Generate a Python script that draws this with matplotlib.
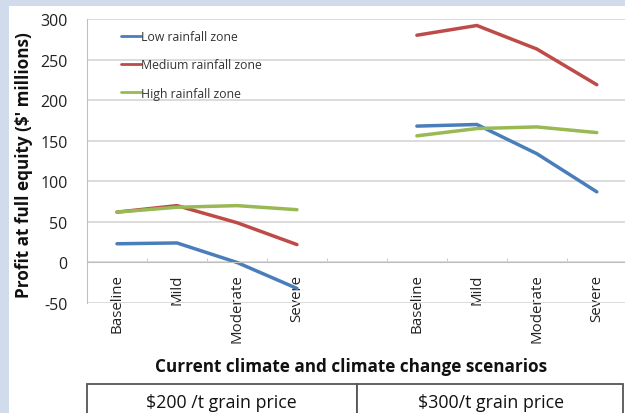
import matplotlib.pyplot as plt
from matplotlib.patches import Rectangle
import numpy as np

plt.rcParams['font.family'] = ['Open Sans', 'DejaVu Sans']
plt.rcParams['axes.unicode_minus'] = False

# 数据
scenarios = ["Baseline", "Mild", "Moderate", "Severe"]
low_200 = [23, 24, 0, -32]
med_200 = [62, 70, 49, 22]
high_200 = [62, 68, 70, 65]
low_300 = [168, 170, 134, 87]
med_300 = [280, 292, 263, 219]
high_300 = [156, 165, 167, 160]
series_names = ["Low rainfall zone", "Medium rainfall zone", "High rainfall zone"]
colors = ["#4a7ebb", "#be4b48", "#98b954"]
price_labels = ["$200 /t grain price", "$300/t grain price"]

W, H = 625, 414
fig = plt.figure(figsize=(W / 100, H / 100), dpi=100, facecolor="#d0dcec")
# 白色面板
fig.patches.append(Rectangle((9 / W, 0), 1, 1 - 7 / H, transform=fig.transFigure,
                             facecolor="white", edgecolor="none", zorder=-10))

ax = fig.add_axes([87 / W, (H - 304) / H, (W - 87) / W, (304 - 20) / H])
ax.set_facecolor("none")

x_left = np.arange(4)
x_right = np.arange(5, 9)
series = [(low_200, low_300), (med_200, med_300), (high_200, high_300)]
for (a, b), c, name in zip(series, colors, series_names):
    ax.plot(x_left, a, color=c, lw=2.5, label=name, solid_capstyle="round")
    ax.plot(x_right, b, color=c, lw=2.5, solid_capstyle="round")

ax.set_xlim(-0.5, 8.47)
ax.set_ylim(-50, 300)
ax.set_yticks(np.arange(-50, 301, 50))
ax.yaxis.grid(True, color="#d9d9d9", lw=1.3)
ax.set_axisbelow(True)
for s in ["top", "right"]:
    ax.spines[s].set_visible(False)
ax.spines["left"].set_color("#bfbfbf")
ax.spines["bottom"].set_position(("data", 0))
ax.spines["bottom"].set_color("#bfbfbf")

ax.set_xticks(list(x_left) + list(x_right))
ax.set_xticklabels(scenarios + scenarios, rotation=90, fontsize=10.8, color="#222222")
ax.set_xticks(np.arange(0.5, 8.5, 1), minor=True)
ax.tick_params(axis="x", which="major", length=0, pad=8)
ax.tick_params(axis="x", which="minor", length=3, direction="in", color="#bfbfbf")
ax.tick_params(axis="y", length=0, labelsize=11.5, colors="#222222", pad=14)

ax.set_ylabel("Profit at full equity ($' millions)", fontsize=12.3, fontweight="bold",
              color="#111111")
ax.yaxis.set_label_coords(-0.1, 0.49)

leg = ax.legend(loc="upper left", bbox_to_anchor=(0.043, 1.0), frameon=False,
                fontsize=8.8, handlelength=1.6, handletextpad=0.0,
                labelspacing=1.25, labelcolor="#333333")
for line in leg.get_lines():
    line.set_linewidth(2)

fig.text(351 / W, 1 - 367 / H, "Current climate and climate change scenarios",
         ha="center", va="center", fontsize=12.3, fontweight="bold", color="#111111")

# 价格表格
box_top = 1 - 385 / H
for x0, x1, xc, lab in [(87, 357, 221, price_labels[0]), (357, 623, 491, price_labels[1])]:
    fig.patches.append(Rectangle((x0 / W, -0.05), (x1 - x0) / W, box_top + 0.05,
                                 transform=fig.transFigure, facecolor="white",
                                 edgecolor="#555555", lw=1.3))
    fig.text(xc / W, 1 - 403 / H, lab, ha="center", va="center",
             fontsize=12.8, color="#111111")

fig.savefig("out.png", dpi=100, facecolor=fig.get_facecolor())
